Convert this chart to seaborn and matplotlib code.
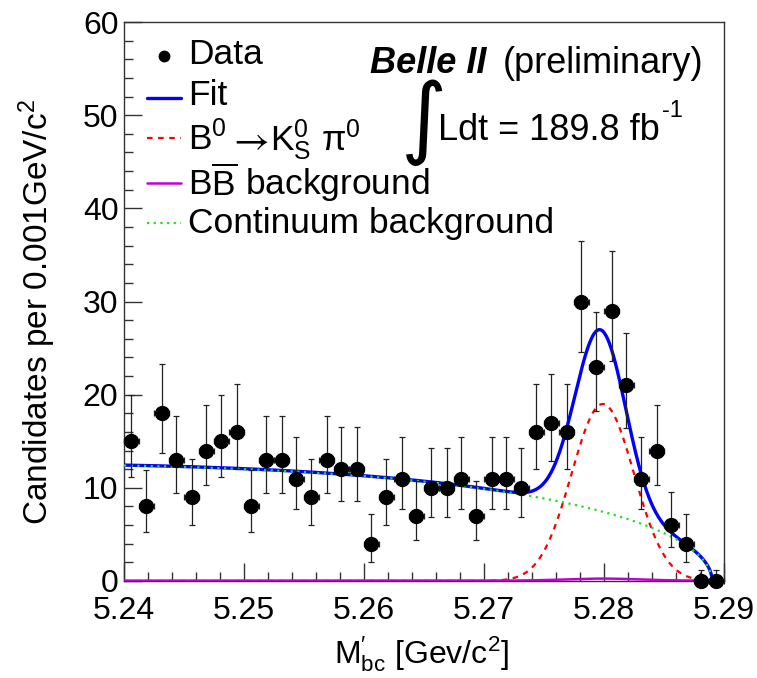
import numpy as np
import pandas as pd
import matplotlib
matplotlib.use("Agg")
import matplotlib.pyplot as plt
from matplotlib.lines import Line2D
import seaborn as sns

# ---------------- data ----------------
x_min, x_max = 5.24, 5.29
n_bins = 40
counts = [15, 8, 18, 13, 9, 14, 15, 16, 8, 13,
          13, 11, 9, 13, 12, 12, 4, 9, 11, 7,
          10, 10, 11, 7, 11, 11, 10, 16, 17, 16,
          30, 23, 29, 21, 11, 14, 6, 4, 0, 0]
x_ticks = [5.24, 5.25, 5.26, 5.27, 5.28, 5.29]
x_tick_labels = ["5.24", "5.25", "5.26", "5.27", "5.28", "5.29"]
y_ticks = [0, 10, 20, 30, 40, 50, 60]
y_tick_labels = ["0", "10", "20", "30", "40", "50", "60"]

# fit-model parameters
argus_endpoint = 5.289
argus_slope = -21.4
cont_at_start = 12.4
fit_signal = [19.2, 5.2797, 0.0021]      # amplitude, mean, sigma (solid fit)
signal_comp = [19.0, 5.2799, 0.0026]     # amplitude, mean, sigma (dashed component)
bb_comp = [0.22, 5.2799, 0.003, 0.04]    # peak amp, mean, sigma, flat level

# signal legend label is split in three pieces: B0, arrow, K0S pi0
sig_label_parts = [r"B$^{0}$", r"$\rightarrow$", r"K$_{\rm S}^{0}$ π$^{0}$"]
legend_labels = ["Data", "Fit", "".join(sig_label_parts),
                 r"B$\overline{\rm B}$ background", "Continuum background"]

# ---------------- style ----------------
sns.set_theme(style="ticks")
plt.rcParams["font.family"] = ["Liberation Sans", "DejaVu Sans"]
plt.rcParams["mathtext.fontset"] = "custom"
plt.rcParams["mathtext.rm"] = "Liberation Sans"
plt.rcParams["mathtext.it"] = "Liberation Sans:italic"
plt.rcParams["mathtext.bf"] = "Liberation Sans:bold"
plt.rcParams["mathtext.sf"] = "Liberation Sans"
plt.rcParams["text.color"] = "black"
plt.rcParams["xtick.color"] = "#333333"
plt.rcParams["ytick.color"] = "#333333"
plt.rcParams["xtick.labelcolor"] = "black"
plt.rcParams["ytick.labelcolor"] = "black"

W, H = 757, 678
fig = plt.figure(figsize=(W / 100, H / 100), dpi=100)
ax = fig.add_axes([124 / W, 1 - 581 / H, 600 / W, 559 / H])

# ---------------- derived quantities ----------------
edges = np.linspace(x_min, x_max, n_bins + 1)
centers = 0.5 * (edges[:-1] + edges[1:])
half_w = 0.5 * (edges[1] - edges[0])
n = np.array(counts, dtype=float)
err_lo = np.where(n > 0, np.sqrt(np.maximum(n - 0.25, 0)), 0.0)
err_hi = np.where(n > 0, 1 + np.sqrt(n + 0.75), 1.147)

m = np.linspace(x_min, x_max, 2001)


def argus(x):
    r2 = 1 - (x / argus_endpoint) ** 2
    r2 = np.where(r2 > 0, r2, np.nan)
    return x * np.sqrt(r2) * np.exp(argus_slope * r2)


def gauss(x, a, mu, s):
    return a * np.exp(-0.5 * ((x - mu) / s) ** 2)


cont = cont_at_start * argus(m) / argus(np.array([x_min]))[0]
sig_fit = gauss(m, *fit_signal)
sig = gauss(m, *signal_comp)
bb = gauss(m, *bb_comp[:3]) + bb_comp[3]
bb = np.where(m < argus_endpoint, bb, 0.0)
total = cont + sig_fit + bb

df = pd.DataFrame({"m": m, "fit": total, "sig": sig, "bb": bb, "cont": cont})

# ---------------- curves ----------------
blue, red, mag, green = "#0000ff", "#ff0000", "#c000d8", "#22dd22"
red_ls, green_ls = (0, (2.5, 2.5)), (0, (1, 2))
sns.lineplot(data=df, x="m", y="fit", ax=ax, color=blue, lw=2.4, zorder=3)
sns.lineplot(data=df, x="m", y="sig", ax=ax, color=red, lw=1.6,
             linestyle=red_ls, zorder=4)
sns.lineplot(data=df, x="m", y="bb", ax=ax, color=mag, lw=1.8, zorder=4)
sns.lineplot(data=df, x="m", y="cont", ax=ax, color=green, lw=1.6,
             linestyle=green_ls, zorder=5)

# ---------------- data ----------------
ax.errorbar(centers, n, yerr=[err_lo, err_hi], xerr=half_w, fmt="o",
            color="black", ecolor="#222222", elinewidth=0.9, capsize=2.5,
            capthick=0.9, markersize=10, zorder=6, clip_on=False)

# ---------------- axes ----------------
ax.set_xlim(x_min, x_max)
ax.set_ylim(0, 60)
ax.set_xticks(x_ticks)
ax.set_xticklabels(x_tick_labels)
ax.set_yticks(y_ticks)
ax.set_yticklabels(y_tick_labels)
ax.set_xticks(np.arange(5.242, 5.29, 0.002), minor=True)
ax.set_yticks(np.arange(2, 60, 2), minor=True)
ax.tick_params(axis="both", which="major", direction="in", length=13, width=1,
               labelsize=23)
ax.tick_params(axis="both", which="minor", direction="in", length=6.5, width=1)
ax.tick_params(axis="x", which="major", pad=11)
ax.tick_params(axis="y", which="major", pad=4)
ax.tick_params(top=False, right=False, which="both")
for sp in ax.spines.values():
    sp.set_linewidth(1.0)
    sp.set_color("#333333")
    sp.set_visible(True)
ax.set_xlabel("")
ax.set_ylabel("")

fig.text(422 / W, 1 - 664 / H, r"M$_{\rm bc}^{\prime}$ [Gev/c$^{2}$]",
         fontsize=23, ha="center", va="baseline")
fig.text(37 / W, 1 - 312 / H, r"Candidates per 0.001GeV/c$^{2}$",
         fontsize=24, rotation=90, ha="center", va="center")

# ---------------- legend (drawn row by row) ----------------
row_base = [64, 105, 150, 195, 233]
row_handle = [56, 98, 138, 183, 223]
styles = [dict(marker="o", color="black", linestyle="none", markersize=7.5),
          dict(color=blue, lw=2.4),
          dict(color=red, lw=1.6, linestyle=red_ls),
          dict(color=mag, lw=1.8),
          dict(color=green, lw=1.6, linestyle=green_ls)]
for i, (lab, yb, yh, st) in enumerate(zip(legend_labels, row_base, row_handle, styles)):
    if st.get("marker"):
        xs, ys = [164 / W], [1 - yh / H]
    else:
        xs, ys = [147 / W, 181 / W], [1 - yh / H] * 2
    fig.add_artist(Line2D(xs, ys, transform=fig.transFigure, **st))
    if i == 2:
        fig.text(188 / W, 1 - yb / H, sig_label_parts[0], fontsize=25.5,
                 ha="left", va="baseline")
        fig.text(248 / W, 1 - 140 / H, sig_label_parts[1], fontsize=28,
                 ha="center", va="center", math_fontfamily="stix")
        fig.text(270 / W, 1 - yb / H, sig_label_parts[2], fontsize=25.5,
                 ha="left", va="baseline")
    else:
        fig.text(188 / W, 1 - yb / H, lab, fontsize=25.5, ha="left", va="baseline")

# ---------------- annotations ----------------
fig.text(370 / W, 1 - 73 / H, "Belle II", fontsize=26, fontweight="bold",
         fontstyle="italic", va="baseline", ha="left")
fig.text(503 / W, 1 - 73 / H, "(preliminary)", fontsize=26,
         va="baseline", ha="left")
fig.text(424 / W, 1 - 122 / H, "\u222b", fontsize=64, va="center", ha="center",
         family="DejaVu Sans")
lumi = fig.text(438 / W, 1 - 140 / H, "Ldt = 189.8 fb", fontsize=26,
                va="baseline", ha="left")
fig.canvas.draw()
bb_l = lumi.get_window_extent(renderer=fig.canvas.get_renderer())
fig.text(bb_l.x1 / W + 2 / W, 1 - 117 / H, "-1", fontsize=17,
         va="baseline", ha="left")

fig.savefig("out.png", dpi=100)
